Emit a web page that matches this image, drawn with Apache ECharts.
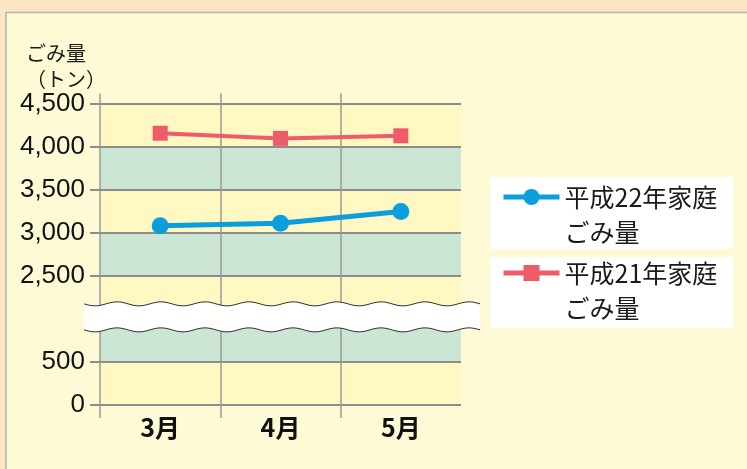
<!DOCTYPE html>
<html><head><meta charset="utf-8">
<script src="https://cdn.jsdelivr.net/npm/echarts@6/dist/echarts.min.js"></script>
<style>html,body{margin:0;padding:0;background:#fde4c2}#c{width:747px;height:469px}</style>
</head><body><div id="c"></div>
<script>
// ---- data ----
const months = ['3月', '4月', '5月'];
const seriesNames = ['平成22年家庭ごみ量', '平成21年家庭ごみ量'];
const h22 = [3080, 3110, 3245];
const h21 = [4155, 4095, 4125];
// tick labels of the broken value axis (display ticks every 500, break at the 3rd tick)
const yTickLabels = ['0', '500', '', '2,500', '3,000', '3,500', '4,000', '4,500'];
const boundaryLabels = ['', '', '', ''];
// axis break: real values 1000..2000 are squeezed out
const BREAK_LO = 1000, BREAK_HI = 2000;
const toAxis = v => v <= BREAK_LO ? v : v - (BREAK_HI - BREAK_LO);

const GRAY = '#8c8c8c';
const JP = '"Noto Sans CJK JP","Noto Sans CJK SC",sans-serif';
const NUM = '"Liberation Sans","DejaVu Sans Condensed",sans-serif';

const chart = echarts.init(document.getElementById('c'));
const legendCommon = {
  orient: 'vertical', left: 501, padding: 0, itemWidth: 56, itemHeight: 20,
  lineStyle: { width: 5 },
  textStyle: { fontSize: 25, lineHeight: 35, fontFamily: JP, color: '#1a1a1a' },
  // leading empty line keeps the first text line level with the icon
  formatter: n => '\n' + n.replace('ごみ量', '\nごみ量'),
  z: 10, selectedMode: false
};
chart.setOption({
  backgroundColor: '#fde4c2',
  animation: false,
  title: {
    text: 'ごみ量\n（トン）', left: 21, top: 35,
    textStyle: { fontSize: 20, lineHeight: 26, fontWeight: 'normal', fontFamily: JP, color: '#1a1a1a' }
  },
  legend: [
    Object.assign({}, legendCommon, { data: [seriesNames[0]], top: 144.5 }),
    Object.assign({}, legendCommon, { data: [seriesNames[1]], top: 220.5 })
  ],
  grid: { left: 100, right: 286, top: 103.5, bottom: 64 },
  xAxis: [
    {
      type: 'category', data: months, boundaryGap: true, position: 'bottom',
      axisLine: { show: false }, axisTick: { show: false }, splitLine: { show: false },
      axisLabel: { fontSize: 25, fontWeight: 'bold', fontFamily: JP, color: '#111', margin: 10 }
    },
    {
      type: 'category', data: boundaryLabels, boundaryGap: false, position: 'bottom',
      axisLine: { show: false }, axisLabel: { show: false },
      axisTick: { show: true, length: 13, interval: i => i < 3, lineStyle: { color: '#9a9a9a', width: 1.5 } },
      splitLine: { show: true, interval: i => i < 3, lineStyle: { color: '#9a9a9a', width: 1.5 } }
    },
    {
      type: 'category', data: boundaryLabels, boundaryGap: false, position: 'top',
      axisLine: { show: false }, axisLabel: { show: false },
      axisTick: { show: true, length: 10, interval: i => i < 3, lineStyle: { color: '#9a9a9a', width: 1.5 } },
      splitLine: { show: false }
    }
  ],
  yAxis: {
    type: 'value', min: 0, max: toAxis(4500), interval: 500,
    axisLine: { show: false },
    axisTick: { show: true, length: 10, lineStyle: { color: GRAY, width: 2 } },
    splitLine: { show: true, lineStyle: { color: GRAY, width: 2 } },
    splitArea: { show: true, areaStyle: { color: ['#fff8c3', '#cce6d5'] } },
    axisLabel: { fontSize: 26, fontFamily: NUM, color: '#111', margin: 15,
      formatter: (v, i) => yTickLabels[i] }
  },
  series: [
    {
      name: seriesNames[0], type: 'line', data: h22.map(toAxis),
      symbol: 'circle', symbolSize: 17, color: '#0a9fdc',
      lineStyle: { width: 5, color: '#0a9fdc' }, itemStyle: { color: '#0a9fdc' }, z: 5
    },
    {
      name: seriesNames[1], type: 'line', data: h21.map(toAxis),
      symbol: 'rect', symbolSize: 15, color: '#ef5b69',
      lineStyle: { width: 4, color: '#ef5b69' }, itemStyle: { color: '#ef5b69' }, z: 5
    }
  ]
});

// decorations: inner panel, legend boxes, axis-break band
const yc = chart.convertToPixel({ yAxisIndex: 0 }, BREAK_LO) - 2;
const x0 = 84, x1 = 480, amp = 2, period = 44;
function wave(y, from, to) {
  const pts = [];
  const step = from < to ? 2 : -2;
  for (let x = from; step > 0 ? x <= to : x >= to; x += step) {
    pts.push([x, y + amp * Math.sin((x - x0) / period * 2 * Math.PI)]);
  }
  return pts;
}
const topW = wave(yc - 13, x0, x1), botW = wave(yc + 13, x1, x0);
chart.setOption({
  graphic: [
    { type: 'rect', z: -10, shape: { x: 6, y: 12.5, width: 760, height: 470 },
      style: { fill: '#fffad6', stroke: '#b3b3b3', lineWidth: 1.5 } },
    { type: 'rect', z: 1, shape: { x: 490, y: 177, width: 243, height: 72 }, style: { fill: '#ffffff' } },
    { type: 'rect', z: 1, shape: { x: 490, y: 257, width: 243, height: 71 }, style: { fill: '#ffffff' } },
    { type: 'polygon', z: 20, shape: { points: topW.concat(botW) }, style: { fill: '#ffffff' } },
    { type: 'polyline', z: 21, shape: { points: topW }, style: { stroke: '#333', lineWidth: 1, fill: null } },
    { type: 'polyline', z: 21, shape: { points: botW }, style: { stroke: '#333', lineWidth: 1, fill: null } }
  ]
});
</script>
</body></html>
